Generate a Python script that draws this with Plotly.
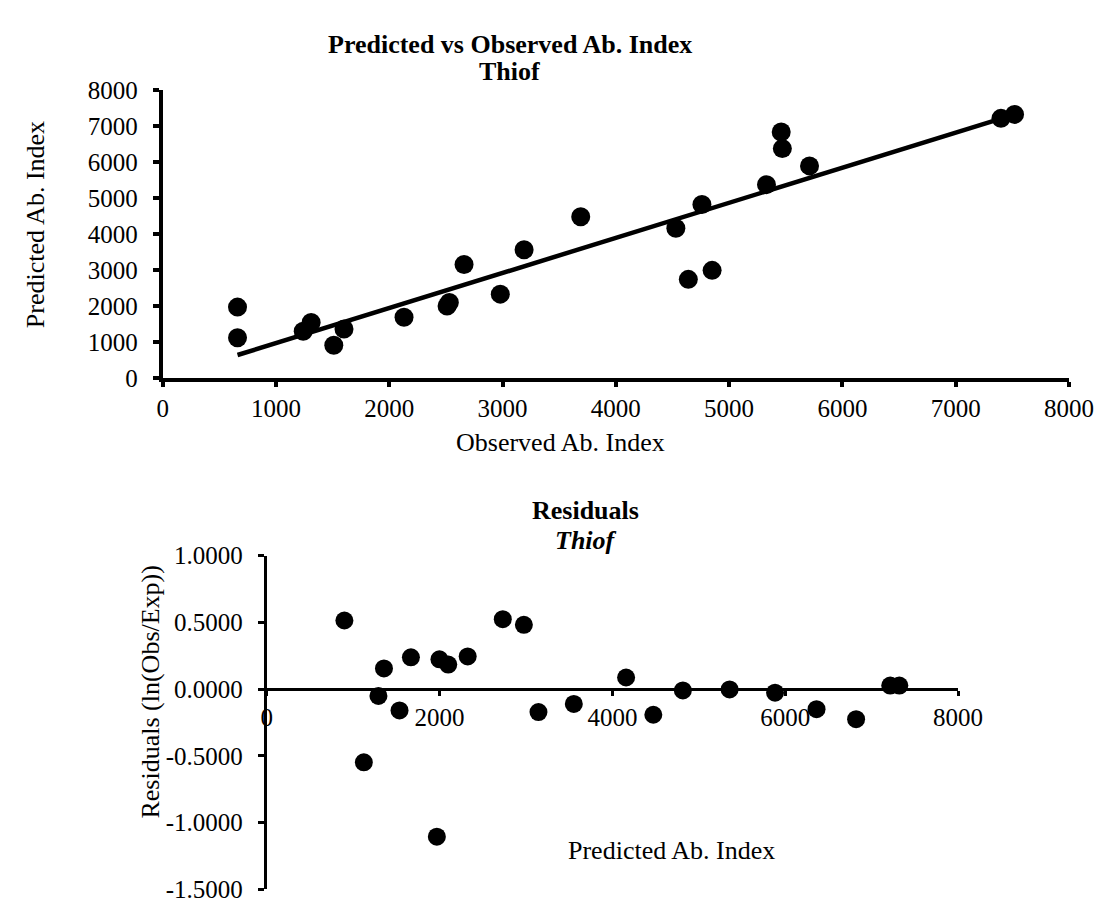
import plotly.graph_objects as go

# Top chart: observed vs predicted abundance index
observed = [660, 660, 1240, 1310, 1510, 1600, 2130, 2510, 2530, 2660, 2980, 3190,
            3690, 4530, 4640, 4760, 4850, 5330, 5460, 5470, 5710, 7400, 7520]
predicted = [1970, 1120, 1300, 1540, 910, 1360, 1690, 2000, 2100, 3150, 2330, 3560,
             4480, 4160, 2740, 4820, 2990, 5370, 6830, 6370, 5890, 7210, 7320]

# fitted line end points
trend_x = [660, 7450]
trend_y = [640, 7250]

# Bottom chart: residuals vs predicted
resid_pred = [898, 1123, 1356, 1292, 1536, 1668, 1998, 2100, 1968, 2325, 2731, 2975,
              3144, 3553, 4158, 4473, 4815, 5356, 5882, 6362, 6820, 7215, 7320]
resid_val = [0.514, -0.548, 0.155, -0.051, -0.160, 0.238, 0.223, 0.184, -1.105, 0.245,
             0.524, 0.482, -0.172, -0.111, 0.087, -0.192, -0.010, -0.002, -0.027,
             -0.150, -0.225, 0.027, 0.027]

resid_ticks = [1.0, 0.5, 0.0, -0.5, -1.0, -1.5]
resid_ticktext = ["1.0000", "0.5000", "0.0000", "-0.5000", "-1.0000", "-1.5000"]

W, H = 1118, 908
FONT = "Liberation Serif, Times New Roman, serif"


def px(x):
    return x / W


def py(y):
    return 1 - y / H


fig = go.Figure()

fig.add_trace(go.Scatter(x=trend_x, y=trend_y, mode="lines",
                         line=dict(color="black", width=4.5),
                         xaxis="x", yaxis="y", showlegend=False))
fig.add_trace(go.Scatter(x=observed, y=predicted, mode="markers",
                         marker=dict(color="black", size=19),
                         xaxis="x", yaxis="y", showlegend=False))
fig.add_trace(go.Scatter(x=resid_pred, y=resid_val, mode="markers",
                         marker=dict(color="black", size=18),
                         xaxis="x2", yaxis="y2", showlegend=False))

tick_font = dict(family=FONT, size=25, color="black")
axis_common = dict(showgrid=False, zeroline=False, showline=True, linecolor="black",
                   ticks="outside", tickcolor="black", tickfont=tick_font)

fig.update_layout(
    width=W, height=H,
    margin=dict(l=0, r=0, t=0, b=0),
    paper_bgcolor="white", plot_bgcolor="white",
    font=dict(family=FONT, color="black"),
    xaxis=dict(domain=[px(153), px(1085)], range=[0, 8000], dtick=1000,
               anchor="y", linewidth=4, tickwidth=4, ticklen=5,
               ticklabelstandoff=0, **axis_common),
    yaxis=dict(domain=[py(368), py(71)], range=[0, 8000], dtick=1000,
               anchor="x", linewidth=4, tickwidth=4, ticklen=6,
               ticklabelstandoff=10, **axis_common),
    xaxis2=dict(domain=[px(260), px(971)], range=[0, 8000], dtick=2000,
                anchor="free", position=py(688), linewidth=3, tickwidth=3, ticklen=5,
                ticklabelstandoff=0, **axis_common),
    yaxis2=dict(domain=[py(895), py(551)], range=[-1.5, 1.0],
                tickvals=resid_ticks, ticktext=resid_ticktext,
                anchor="x2", linewidth=3, tickwidth=3, ticklen=6,
                ticklabelstandoff=10, **axis_common),
)

title_font = dict(family=FONT, size=26, color="black")
annotations = [
    dict(text="<b>Predicted vs Observed Ab. Index</b>", x=px(510), y=py(24)),
    dict(text="<b>Thiof</b>", x=px(510), y=py(52)),
    dict(text="Observed Ab. Index", x=px(562), y=py(434)),
    dict(text="Predicted Ab. Index", x=px(22), y=py(210), textangle=-90),
    dict(text="<b>Residuals</b>", x=px(588), y=py(505)),
    dict(text="<b><i>Thiof</i></b>", x=px(588), y=py(535)),
    dict(text="Predicted Ab. Index", x=px(676), y=py(855)),
    dict(text="Residuals (ln(Obs/Exp))", x=px(140), y=py(692), textangle=-90),
]
for a in annotations:
    fig.add_annotation(xref="paper", yref="paper", showarrow=False,
                       xanchor="center", yanchor="middle", font=title_font, **a)

fig.write_html("out.html")
